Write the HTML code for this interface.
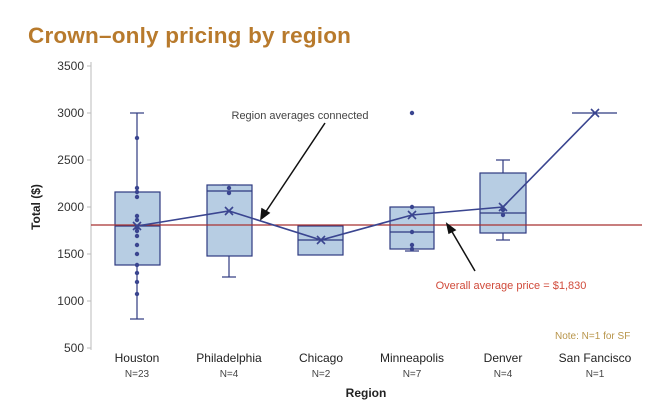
<!DOCTYPE html>
<html><head><style>
body{margin:0;background:#fff}
svg{font-family:"Liberation Sans",sans-serif}
</style></head><body>
<svg width="663" height="412" viewBox="0 0 663 412" xmlns="http://www.w3.org/2000/svg">
<text x="28" y="43" font-size="22.5" font-weight="bold" fill="#b87a2c" letter-spacing="0.2">Crown–only pricing by region</text>
<line x1="91" y1="62" x2="91" y2="350" stroke="#bbb"/>
<g font-size="12" fill="#333" text-anchor="end">
<text x="84" y="70">3500</text><text x="84" y="117">3000</text><text x="84" y="164">2500</text>
<text x="84" y="211">2000</text><text x="84" y="258">1500</text><text x="84" y="305">1000</text><text x="84" y="352">500</text>
</g>
<g stroke="#bbb"><line x1="87" y1="66" x2="91" y2="66"/><line x1="87" y1="113" x2="91" y2="113"/><line x1="87" y1="160" x2="91" y2="160"/><line x1="87" y1="207" x2="91" y2="207"/><line x1="87" y1="254" x2="91" y2="254"/><line x1="87" y1="301" x2="91" y2="301"/><line x1="87" y1="348" x2="91" y2="348"/></g>
<text transform="translate(40,207) rotate(-90)" font-size="12" font-weight="bold" text-anchor="middle" fill="#222">Total ($)</text>
<g stroke="#2e3a80" stroke-width="1.2" fill="#b7cde3">
<line x1="137" y1="113" x2="137" y2="319"/><line x1="130" y1="113" x2="144" y2="113"/><line x1="130" y1="319" x2="144" y2="319"/>
<rect x="115" y="192" width="45" height="73"/><line x1="115" y1="226" x2="160" y2="226"/>
<line x1="229" y1="256" x2="229" y2="277"/><line x1="222" y1="277" x2="236" y2="277"/><line x1="222" y1="185" x2="236" y2="185"/>
<rect x="207" y="185" width="45" height="71"/><line x1="207" y1="191" x2="252" y2="191"/>
<rect x="298" y="226" width="45" height="29"/><line x1="298" y1="240" x2="343" y2="240"/>
<rect x="390" y="207" width="44" height="42"/><line x1="390" y1="232" x2="434" y2="232"/><line x1="405" y1="251" x2="419" y2="251"/>
<line x1="503" y1="160" x2="503" y2="240"/><line x1="496" y1="160" x2="510" y2="160"/><line x1="496" y1="240" x2="510" y2="240"/>
<rect x="480" y="173" width="46" height="60"/><line x1="480" y1="213" x2="526" y2="213"/>
<line x1="572" y1="113" x2="617" y2="113"/>
</g>
<line x1="91" y1="225" x2="642" y2="225" stroke="#a83232" stroke-width="1.2"/>
<g fill="#3a4590">
<circle cx="137" cy="138" r="2.2"/><circle cx="137" cy="188" r="2.2"/><circle cx="137" cy="192" r="2.2"/><circle cx="137" cy="197" r="2.2"/><circle cx="137" cy="216" r="2.2"/><circle cx="137" cy="220" r="2.2"/><circle cx="137" cy="228" r="2.2"/><circle cx="137" cy="231" r="2.2"/><circle cx="137" cy="236" r="2.2"/><circle cx="137" cy="245" r="2.2"/><circle cx="137" cy="254" r="2.2"/><circle cx="137" cy="265" r="2.2"/><circle cx="137" cy="273" r="2.2"/><circle cx="137" cy="282" r="2.2"/><circle cx="137" cy="294" r="2.2"/>
<circle cx="229" cy="188" r="2.2"/><circle cx="229" cy="193" r="2.2"/>
<circle cx="412" cy="113" r="2.2"/><circle cx="412" cy="207" r="2.2"/><circle cx="412" cy="232" r="2.2"/><circle cx="412" cy="245" r="2.2"/><circle cx="412" cy="249" r="2.2"/>
<circle cx="503" cy="210" r="2.2"/><circle cx="503" cy="215" r="2.2"/>
</g>
<polyline points="137,226 229,211 321,240 412,215 503,207 595,113" fill="none" stroke="#3a4590" stroke-width="1.6"/>
<g stroke="#3a4590" stroke-width="1.6">
<path d="M133,222l8,8M141,222l-8,8"/><path d="M225,207l8,8M233,207l-8,8"/><path d="M317,236l8,8M325,236l-8,8"/><path d="M408,211l8,8M416,211l-8,8"/><path d="M499,203l8,8M507,203l-8,8"/><path d="M591,109l8,8M599,109l-8,8"/>
</g>
<g stroke="#111" stroke-width="1.5" fill="#111">
<line x1="325" y1="123" x2="265" y2="213"/><path d="M261,219l1,-10l7,4z"/>
<line x1="475" y1="271" x2="451" y2="230"/><path d="M447,224l8,6l-6,3z"/>
</g>
<text x="300" y="119" font-size="11" fill="#444" text-anchor="middle">Region averages connected</text>
<text x="511" y="289" font-size="11" fill="#d04a3a" text-anchor="middle">Overall average price = $1,830</text>
<text x="555" y="339" font-size="10" fill="#b8954a">Note: N=1 for SF</text>
<g font-size="12" fill="#222" text-anchor="middle">
<text x="137" y="362">Houston</text><text x="229" y="362">Philadelphia</text><text x="321" y="362">Chicago</text><text x="412" y="362">Minneapolis</text><text x="503" y="362">Denver</text><text x="595" y="362">San Fancisco</text>
</g>
<g font-size="10" fill="#444" text-anchor="middle">
<text x="137" y="377">N=23</text><text x="229" y="377">N=4</text><text x="321" y="377">N=2</text><text x="412" y="377">N=7</text><text x="503" y="377">N=4</text><text x="595" y="377">N=1</text>
</g>
<text x="366" y="397" font-size="12" font-weight="bold" fill="#222" text-anchor="middle">Region</text>
</svg>
</body></html>
